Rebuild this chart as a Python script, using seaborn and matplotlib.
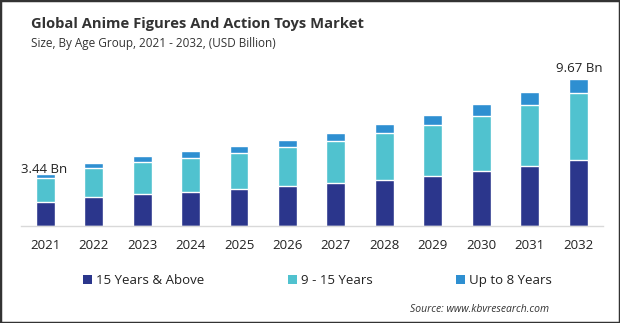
import matplotlib
matplotlib.use("Agg")
import matplotlib.pyplot as plt
from matplotlib.patches import Patch, Rectangle
import seaborn as sns
import numpy as np
import pandas as pd

years = ["2021", "2022", "2023", "2024", "2025", "2026", "2027", "2028", "2029", "2030", "2031", "2032"]
above_15 = [1.58, 1.91, 2.11, 2.24, 2.43, 2.63, 2.83, 3.03, 3.29, 3.62, 3.95, 4.34]
age_9_15 = [1.60, 1.91, 2.11, 2.24, 2.37, 2.57, 2.76, 3.09, 3.36, 3.62, 4.01, 4.41]
upto_8 = [0.26, 0.32, 0.38, 0.45, 0.46, 0.46, 0.53, 0.59, 0.65, 0.79, 0.86, 0.92]
series_names = ["15 Years & Above", "9 - 15 Years", "Up to 8 Years"]
colors = ["#2B368C", "#50C2CF", "#2E8FD1"]
annotations = {0: "3.44 Bn", 11: "9.67 Bn"}

sns.set_theme(style="white")
plt.rcParams["font.family"] = ["Open Sans", "DejaVu Sans"]

df = pd.DataFrame({"year": years, "a": above_15, "b": age_9_15, "c": upto_8})
df["ab"] = df["a"] + df["b"]
df["abc"] = df["ab"] + df["c"]

fig = plt.figure(figsize=(6.2, 3.23), dpi=100)
ax = fig.add_axes([0.034, 0.300, 0.939, 0.483])

for col, c in zip(["abc", "ab", "a"], [colors[2], colors[1], colors[0]]):
    sns.barplot(data=df, x="year", y=col, color=c, saturation=1, width=0.39, ax=ax)

ax.set_xlim(-0.5, 11.52)
ax.set_ylim(0, 10.26)
ax.set_xlabel("")
ax.set_ylabel("")
ax.set_yticks([])
for s in ["top", "right", "left"]:
    ax.spines[s].set_visible(False)
ax.spines["bottom"].set_color("#d9d9d9")
ax.spines["bottom"].set_linewidth(1)
ax.tick_params(axis="x", length=0, labelsize=9.5, colors="#222222", pad=9)

totals = df["abc"].tolist()
ax.text(-0.5, totals[0] + 0.02, annotations[0], ha="left", va="baseline", fontsize=9.5, color="#222222")
ax.text(11.5, totals[11] + 0.25, annotations[11], ha="right", va="bottom", fontsize=9.5, color="#222222")

fig.text(0.05, 0.925, "Global Anime Figures And Action Toys Market", fontsize=10.6, fontweight="bold",
         color="#333333", ha="left", va="center")
fig.text(0.05, 0.866, "Size, By Age Group, 2021 - 2032, (USD Billion)", fontsize=8.5,
         color="#333333", ha="left", va="center")

handles = [Patch(facecolor=c, edgecolor="none") for c in colors]
fig.legend(handles, series_names, loc="center left", bbox_to_anchor=(0.115, 0.131), ncol=3,
           frameon=False, fontsize=9.5, handlelength=0.7, handleheight=0.7, handletextpad=0.3,
           columnspacing=6.3, labelcolor="#222222")

fig.text(0.885, 0.043, "Source: www.kbvresearch.com", fontsize=7.5, style="italic",
         color="#333333", ha="right", va="center")

fig.patches.append(Rectangle((0, 0), 1, 1, transform=fig.transFigure, fill=False,
                             edgecolor="#333333", linewidth=2.5))

fig.savefig("out.png", dpi=100)
